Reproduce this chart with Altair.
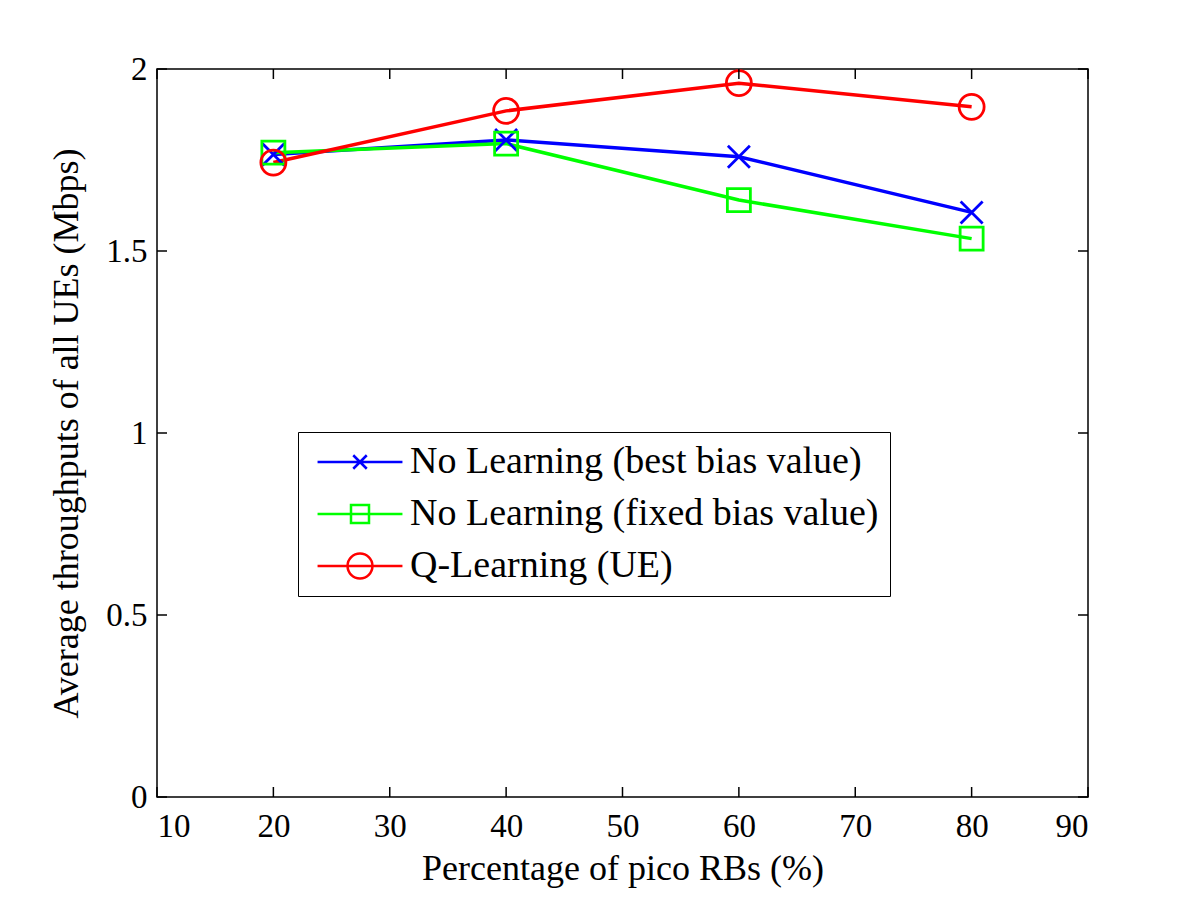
import altair as alt
import pandas as pd

# ---- data ----
x_vals = [20, 40, 60, 80]
series_names = [
    "No Learning (best bias value)",
    "No Learning (fixed bias value)",
    "Q-Learning (UE)",
]
best_bias = [1.765, 1.805, 1.759, 1.606]
fixed_bias = [1.770, 1.795, 1.640, 1.534]
q_learning = [1.743, 1.885, 1.961, 1.896]
x_ticks = [10, 20, 30, 40, 50, 60, 70, 80, 90]
y_ticks = [0, 0.5, 1, 1.5, 2]
x_title = "Percentage of pico RBs (%)"
y_title = "Average throughputs of all UEs (Mbps)"

colors = ["#0000ff", "#00ff00", "#ff0000"]
marker_shapes = ["M-1,-1L1,1M-1,1L1,-1", "square", "circle"]
marker_sizes = [484, 529, 625]
legend_shapes = [
    "M-2.83,0H2.83M-0.45,-0.45L0.45,0.45M-0.45,0.45L0.45,-0.45",
    "M-2.83,0H2.83M-0.6,-0.6H0.6V0.6H-0.6Z",
    "M-2.83,0H2.83M0.83,0A0.83,0.83 0 1,1 -0.83,0A0.83,0.83 0 1,1 0.83,0Z",
]

rows = []
for name, vals in zip(series_names, [best_bias, fixed_bias, q_learning]):
    for xv, yv in zip(x_vals, vals):
        rows.append({"series": name, "x": xv, "y": yv})
df = pd.DataFrame(rows)

W, H = 931, 728
FONT = "Liberation Serif"

xscale = alt.Scale(domain=[10, 90], nice=False, zero=False)
yscale = alt.Scale(domain=[0, 2], nice=False)
color_scale = alt.Scale(domain=series_names, range=colors)
shape_scale = alt.Scale(domain=series_names, range=legend_shapes)

x_axis = alt.Axis(values=x_ticks, tickSize=0, domain=False, grid=False,
                  labelFont=FONT, labelFontSize=33, labelColor="black", labelPadding=13,
                  titleFont=FONT, titleFontSize=36, titleFontWeight="normal",
                  titleColor="black", titlePadding=8)
y_axis = alt.Axis(values=y_ticks, format="~g", tickSize=0, domain=False, grid=False,
                  labelFont=FONT, labelFontSize=33, labelColor="black", labelPadding=10,
                  titleFont=FONT, titleFontSize=36, titleFontWeight="normal",
                  titleColor="black", titlePadding=20)


def X(field):
    return alt.X(field, type="quantitative", scale=xscale, axis=x_axis, title=x_title)


def Y(field):
    return alt.Y(field, type="quantitative", scale=yscale, axis=y_axis, title=y_title)


legend_props = dict(
    orient="none", legendX=141, legendY=363, title=None,
    labelFont=FONT, labelFontSize=38, labelColor="black", labelLimit=0,
    symbolSize=900, symbolStrokeWidth=2.5, symbolOpacity=1, symbolOffset=32,
    labelOffset=31, rowPadding=14, padding=11,
    strokeColor="black", fillColor="white",
)

base = alt.Chart(df)

lines = base.mark_line(strokeWidth=3.5).encode(
    x=X("x"), y=Y("y"),
    color=alt.Color("series:N", scale=color_scale, legend=alt.Legend(**legend_props)),
)

marker_layers = []
for name, shp, sz, col in zip(series_names, marker_shapes, marker_sizes, colors):
    marker_layers.append(
        base.transform_filter(alt.datum.series == name)
        .mark_point(shape=shp, size=sz, color=col, filled=False, strokeWidth=2.8, opacity=1)
        .encode(x=X("x"), y=Y("y"))
    )

legend_layer = base.mark_point(opacity=0, size=900, filled=False, strokeWidth=2.5).encode(
    x=X("x"), y=Y("y"),
    color=alt.Color("series:N", scale=color_scale, legend=alt.Legend(**legend_props)),
    shape=alt.Shape("series:N", scale=shape_scale, legend=alt.Legend(**legend_props)),
)

xt = pd.DataFrame({"t": x_ticks})
yt = pd.DataFrame({"t": y_ticks})
tick_len = 10
x_bottom = alt.Chart(xt).mark_rule(color="black", strokeWidth=1.5).encode(
    x=X("t"), y=alt.value(H), y2=alt.value(H - tick_len))
x_top = alt.Chart(xt).mark_rule(color="black", strokeWidth=1.5).encode(
    x=X("t"), y=alt.value(0), y2=alt.value(tick_len))
y_left = alt.Chart(yt).mark_rule(color="black", strokeWidth=1.5).encode(
    y=Y("t"), x=alt.value(0), x2=alt.value(tick_len))
y_right = alt.Chart(yt).mark_rule(color="black", strokeWidth=1.5).encode(
    y=Y("t"), x=alt.value(W), x2=alt.value(W - tick_len))

chart = alt.layer(
    lines, *marker_layers, legend_layer, x_bottom, x_top, y_left, y_right
).properties(
    width=W, height=H,
    padding={"left": 149, "top": 61, "right": 100, "bottom": 100},
    autosize=alt.AutoSizeParams(type="none"),
    background="white",
).configure_view(stroke="black", strokeWidth=1.5)

chart.save("out.html", embed_options={"renderer": "svg", "actions": False})
